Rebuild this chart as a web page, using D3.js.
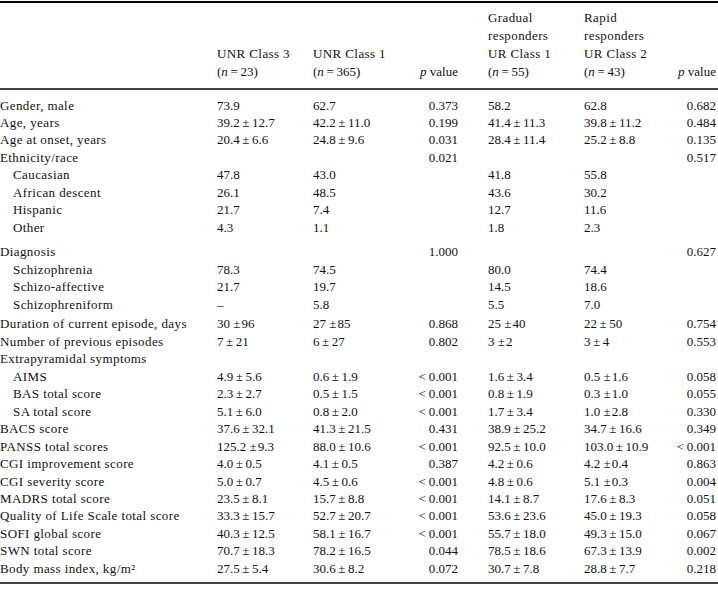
<!DOCTYPE html>
<html><head><meta charset="utf-8">
<script src="https://cdn.jsdelivr.net/npm/d3@7"></script>
<style>
html,body{margin:0;padding:0;background:#fff;}
svg text{font-family:"Liberation Serif","DejaVu Serif",serif;font-size:13px;fill:#111;}
svg text.lab, svg text.hd{letter-spacing:0.4px;}
</style></head>
<body><svg id="c" width="718" height="591"></svg>
<script>
// ---- data ----
const rowLabels = ["Gender, male","Age, years","Age at onset, years","Ethnicity/race","Caucasian","African descent","Hispanic","Other","Diagnosis","Schizophrenia","Schizo-affective","Schizophreniform","Duration of current episode, days","Number of previous episodes","Extrapyramidal symptoms","AIMS","BAS total score","SA total score","BACS score","PANSS total scores","CGI improvement score","CGI severity score","MADRS total score","Quality of Life Scale total score","SOFI global score","SWN total score","Body mass index, kg/m\u00B2"];
const rowIndent = [0,0,0,0,1,1,1,1,0,1,1,1,0,0,0,1,1,1,0,0,0,0,0,0,0,0,0];
const rowGapBefore = [0,0,0,0,0,0,0,0,7,0,0,0,2.5,0,0,0,0,0,0,0,0,0,0,0,0,0,0];
const unrClass3 = ["73.9","39.2±12.7","20.4±6.6","","47.8","26.1","21.7","4.3","","78.3","21.7","–","30 ±96","7±21","","4.9±5.6","2.3±2.7","5.1±6.0","37.6±32.1","125.2 ±9.3","4.0±0.5","5.0±0.7","23.5±8.1","33.3±15.7","40.3±12.5","70.7±18.3","27.5±5.4"];
const unrClass1 = ["62.7","42.2±11.0","24.8±9.6","","43.0","48.5","7.4","1.1","","74.5","19.7","5.8","27 ±85","6±27","","0.6±1.9","0.5±1.5","0.8±2.0","41.3±21.5","88.0±10.6","4.1±0.5","4.5±0.6","15.7±8.8","52.7±20.7","58.1±16.7","78.2±16.5","30.6±8.2"];
const pValueUNR = ["0.373","0.199","0.031","0.021","","","","","1.000","","","","0.868","0.802","","<0.001","<0.001","<0.001","0.431","<0.001","0.387","<0.001","<0.001","<0.001","<0.001","0.044","0.072"];
const urClass1 = ["58.2","41.4±11.3","28.4±11.4","","41.8","43.6","12.7","1.8","","80.0","14.5","5.5","25 ±40","3 ±2","","1.6±3.4","0.8±1.9","1.7±3.4","38.9±25.2","92.5±10.0","4.2±0.6","4.8±0.6","14.1±8.7","53.6±23.6","55.7±18.0","78.5±18.6","30.7±7.8"];
const urClass2 = ["62.8","39.8±11.2","25.2±8.8","","55.8","30.2","11.6","2.3","","74.4","18.6","7.0","22±50","3±4","","0.5 ±1.6","0.3 ±1.0","1.0 ±2.8","34.7±16.6","103.0±10.9","4.2 ±0.4","5.1 ±0.3","17.6±8.3","45.0±19.3","49.3±15.0","67.3±13.9","28.8±7.7"];
const pValueUR = ["0.682","0.484","0.135","0.517","","","","","0.627","","","","0.754","0.553","","0.058","0.055","0.330","0.349","<0.001","0.863","0.004","0.051","0.058","0.067","0.002","0.218"];
const headers = [
  ["UNR Class 3","(n=23)"],
  ["UNR Class 1","(n=365)"],
  ["p value"],
  ["Gradual","responders","UR Class 1","(n=55)"],
  ["Rapid","responders","UR Class 2","(n=43)"],
  ["p value"]
];

// ---- layout ----
const W = 718, H = 591;
const svg = d3.select("#c");
const colX = [217, 313, 458, 488, 584, 716];
const colAnchor = ["start","start","end","start","start","end"];
const columns = [unrClass3, unrClass1, pValueUNR, urClass1, urClass2, pValueUR];

const rowStep = 17.45, firstY = 105;
let acc = 0;
const rowY = rowLabels.map((d,i)=>{ acc += rowGapBefore[i]; return firstY + i*rowStep + acc; });

// rules
const rules = [{y:2,w:2},{y:89,w:1.6},{y:583,w:1.6}];
svg.selectAll("line.rule").data(rules).join("line").attr("class","rule")
  .attr("x1",0).attr("x2",W).attr("y1",d=>d.y).attr("y2",d=>d.y)
  .attr("stroke","#000").attr("stroke-width",d=>d.w);

// header
const headY = [17,35,53,71];
function fmtRich(sel, s){
  let m;
  if ((m = s.match(/^\(n=(\d+)\)$/))) {
    sel.append("tspan").text("(");
    sel.append("tspan").style("font-style","italic").text("n");
    sel.append("tspan").text("\u2009=\u2009"+m[1]+")");
  } else if (s === "p value") {
    sel.append("tspan").style("font-style","italic").text("p");
    sel.append("tspan").text(" value");
  } else sel.text(s);
}
headers.forEach((lines,ci)=>{
  const n = lines.length;
  lines.forEach((ln,li)=>{
    const t = svg.append("text").attr("class", ln.startsWith("(")||ln==="p value" ? "hv" : "hd")
      .attr("x",colX[ci]).attr("y",headY[4-n+li]).attr("dy","0.35em")
      .attr("text-anchor",colAnchor[ci]);
    fmtRich(t, ln);
  });
});

// body labels
svg.selectAll("text.lab").data(rowLabels).join("text").attr("class","lab")
  .attr("x",(d,i)=>rowIndent[i]?13:0).attr("y",(d,i)=>rowY[i]).attr("dy","0.35em")
  .text(d=>d);

function fmtVal(s){
  if (s.includes(" ±")) return s.replace(" ±"," ±\u200A");
  return s.replace("±","\u2009±\u2009").replace("<","<\u2009");
}
columns.forEach((col,ci)=>{
  svg.selectAll("text.c"+ci).data(col).join("text").attr("class","c"+ci)
    .attr("x",colX[ci]).attr("y",(d,i)=>rowY[i]).attr("dy","0.35em")
    .attr("text-anchor",colAnchor[ci])
    .text(d=>fmtVal(d));
});
</script></body></html>
